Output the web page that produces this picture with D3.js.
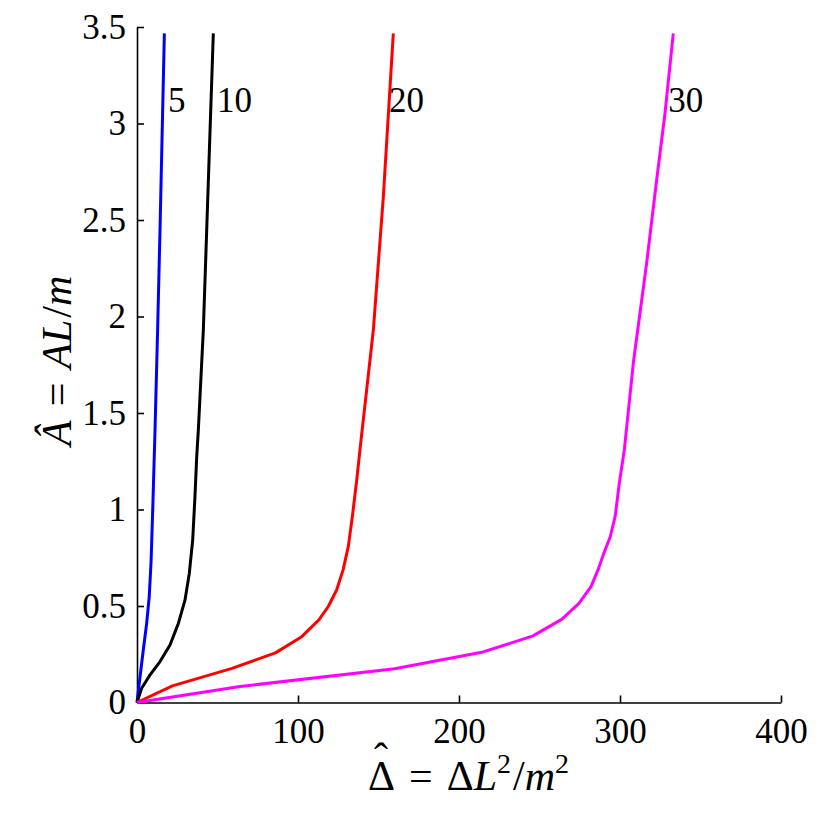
<!DOCTYPE html>
<html>
<head>
<meta charset="utf-8">
<script src="https://cdn.jsdelivr.net/npm/d3@7"></script>
<style>
  body { margin: 0; background: #fff; }
  svg { display: block; }
  text { font-family: "Liberation Serif", "Times New Roman", serif; fill: #000; }
</style>
</head>
<body>
<svg id="chart" width="830" height="830"></svg>
<script>
// curves: [delta, A]
const curve5 = [[0,0],[1.9,0.134],[3.9,0.272],[6,0.41],[7.6,0.549],[8.7,0.722],[9.7,0.981],
  [10.6,1.24],[11.2,1.413],[12.8,1.93],[14.3,2.45],[17,3.467]];
const curve10 = [[0,0],[2.9,0.074],[8.1,0.143],[14.3,0.212],[20.5,0.298],[25.7,0.41],[29.8,0.53],
  [32.5,0.67],[34.6,0.843],[36,1.067],[37.1,1.275],[38.1,1.413],[41.2,1.93],[43.3,2.45],[47.4,3.467]];
const curve20 = [[0,0],[22,0.086],[59,0.177],[86,0.257],[102.3,0.341],[113,0.428],[119,0.5],
  [124,0.583],[128,0.687],[131.3,0.81],[134,0.98],[136.5,1.154],[138.5,1.31],[146.8,1.93],
  [153,2.62],[159.2,3.467]];
const curve30 = [[0,0],[64,0.083],[160,0.175],[215,0.262],[246,0.345],[264,0.432],[274.5,0.514],
  [282,0.6],[286.5,0.69],[290,0.774],[294,0.86],[297,0.964],[299.6,1.137],[302.7,1.31],[308.3,1.76],
  [316.6,2.28],[322.8,2.71],[328,3.056],[333.1,3.467]];

const curves = [curve5, curve10, curve20, curve30];
const curveColors = ["#0000ff", "#000000", "#ff0000", "#ff00ff"];

// curve labels
const labelText = ["5", "10", "20", "30"];
const labelX = [19.3, 49.7, 156.5, 330];
const labelY = [3.06, 3.06, 3.06, 3.06];

const xTicks = [0, 100, 200, 300, 400];
const yTicks = [0, 0.5, 1, 1.5, 2, 2.5, 3, 3.5];

const svg = d3.select("#chart");

const x = d3.scaleLinear().domain([0, 400]).range([137, 781]);
const y = d3.scaleLinear().domain([0, 3.5]).range([702.5, 27]);

// axes with inward ticks
const xAxis = d3.axisBottom(x).tickValues(xTicks).tickFormat(d3.format("d"))
  .tickSizeInner(-7).tickSizeOuter(0).tickPadding(16);
const yAxis = d3.axisLeft(y).tickValues(yTicks).tickFormat(d => String(d))
  .tickSizeInner(-7).tickSizeOuter(0).tickPadding(11);

const gx = svg.append("g").attr("transform", "translate(0,702.5)").call(xAxis);
const gy = svg.append("g").attr("transform", "translate(137,0)").call(yAxis);

[gx, gy].forEach(g => {
  g.selectAll("path, line").attr("stroke", "#000").attr("stroke-width", 1.6);
  g.selectAll("text")
    .style("font-family", '"Liberation Serif", "Times New Roman", serif')
    .style("font-size", "35px")
    .attr("fill", "#000");
});

// lines
const line = d3.line().x(d => x(d[0])).y(d => y(d[1]));

svg.append("g").selectAll("path")
  .data(curves)
  .join("path")
  .attr("d", line)
  .attr("fill", "none")
  .attr("stroke", (d, i) => curveColors[i])
  .attr("stroke-width", 3)
  .attr("stroke-linejoin", "round");

svg.append("g").selectAll("text")
  .data(labelText)
  .join("text")
  .attr("x", (d, i) => x(labelX[i]))
  .attr("y", (d, i) => y(labelY[i]))
  .style("font-size", "35px")
  .text(d => d);

// axis titles
const xt = svg.append("text")
  .attr("x", 368).attr("y", 790)
  .style("font-size", "42px");
xt.append("tspan").text("\u0394");
xt.append("tspan").attr("dx", 14).text("=");
xt.append("tspan").attr("dx", 14).text("\u0394");
xt.append("tspan").style("font-style", "italic").text("L");
xt.append("tspan").attr("dy", -17).style("font-size", "28px").text("2");
xt.append("tspan").attr("dx", 2).attr("dy", 17).text("/");
xt.append("tspan").style("font-style", "italic").text("m");
xt.append("tspan").attr("dy", -17).style("font-size", "28px").text("2");
// hat over the first delta
svg.append("text")
  .attr("x", 381).attr("y", 772)
  .attr("text-anchor", "middle")
  .style("font-size", "42px")
  .text("\u02c6");

const yt = svg.append("text")
  .attr("transform", "translate(71,446) rotate(-90)")
  .style("font-size", "42px");
yt.append("tspan").style("font-style", "italic").text("\u00c2");
yt.append("tspan").attr("dx", 14).text("=");
yt.append("tspan").attr("dx", 14).style("font-style", "italic").text("AL");
yt.append("tspan").attr("dx", 2).text("/");
yt.append("tspan").style("font-style", "italic").text("m");
</script>
</body>
</html>
